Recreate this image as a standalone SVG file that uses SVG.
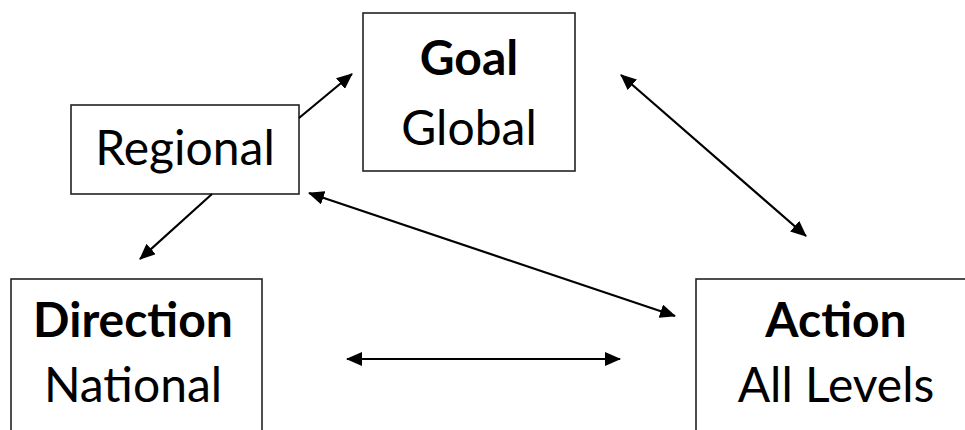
<svg xmlns="http://www.w3.org/2000/svg" width="965" height="430" viewBox="0 0 965 430">
<defs>
<marker id="ah" viewBox="0 0 16 14" refX="15" refY="7" markerWidth="16" markerHeight="14" markerUnits="userSpaceOnUse" orient="auto-start-reverse">
<path d="M0,0 L16,7 L0,14 z" fill="#000"/>
</marker>
<style>
.box{fill:#fff;stroke:#222;stroke-width:1.6}
.t{font-family:Lato,"Open Sans","Liberation Sans",sans-serif;font-size:48px;fill:#000;text-anchor:middle}
.b{font-weight:bold}
.c{stroke:#000;stroke-width:2.2;fill:none}
</style>
</defs>
<rect width="965" height="430" fill="#fff"/>
<g id="goal">
<rect class="box" x="363" y="13" width="212" height="158"/>
<text class="t b" x="469" y="75">Goal</text>
<text class="t" x="469" y="145">Global</text>
</g>
<g id="regional">
<rect class="box" x="71" y="105" width="228" height="89"/>
<text class="t" x="185" y="165">Regional</text>
</g>
<g id="direction">
<rect class="box" x="11" y="279" width="251" height="170"/>
<text class="t b" x="133" y="337">Direction</text>
<text class="t" x="133" y="402">National</text>
</g>
<g id="action">
<rect class="box" x="696" y="279" width="300" height="170"/>
<text class="t b" x="836" y="337">Action</text>
<text class="t" x="836" y="402">All Levels</text>
</g>
<g id="connectors">
<line class="c" x1="299" y1="118" x2="352" y2="74" marker-end="url(#ah)"/>
<line class="c" x1="212" y1="194" x2="140" y2="259" marker-end="url(#ah)"/>
<line class="c" x1="621" y1="75" x2="806" y2="236" marker-start="url(#ah)" marker-end="url(#ah)"/>
<line class="c" x1="309" y1="193" x2="675" y2="316" marker-start="url(#ah)" marker-end="url(#ah)"/>
<line class="c" x1="347" y1="359" x2="620" y2="359" marker-start="url(#ah)" marker-end="url(#ah)"/>
</g>
</svg>
